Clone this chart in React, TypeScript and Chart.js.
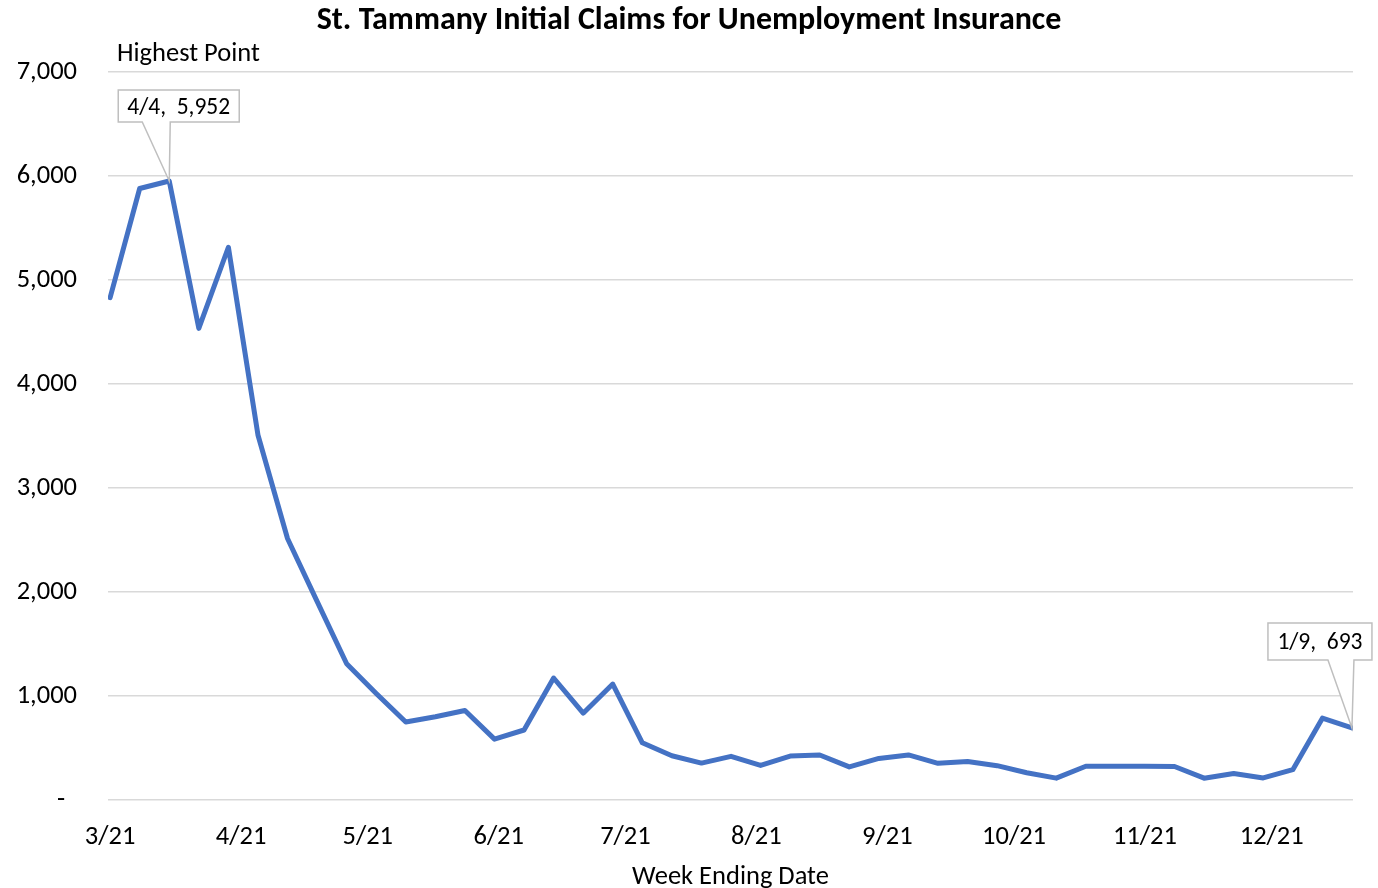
import React, { useEffect, useRef } from 'react';
import { Chart, registerables } from 'chart.js';

Chart.register(...registerables);

const TITLE = 'St. Tammany Initial Claims for Unemployment Insurance';
const X_TITLE = 'Week Ending Date';
const NOTE = 'Highest Point';

// Week ending dates
const weekEnding: string[] = [
  '2020-03-21', '2020-03-28', '2020-04-04', '2020-04-11', '2020-04-18', '2020-04-25',
  '2020-05-02', '2020-05-09', '2020-05-16', '2020-05-23', '2020-05-30',
  '2020-06-06', '2020-06-13', '2020-06-20', '2020-06-27',
  '2020-07-04', '2020-07-11', '2020-07-18', '2020-07-25',
  '2020-08-01', '2020-08-08', '2020-08-15', '2020-08-22', '2020-08-29',
  '2020-09-05', '2020-09-12', '2020-09-19', '2020-09-26',
  '2020-10-03', '2020-10-10', '2020-10-17', '2020-10-24', '2020-10-31',
  '2020-11-07', '2020-11-14', '2020-11-21', '2020-11-28',
  '2020-12-05', '2020-12-12', '2020-12-19', '2020-12-26',
  '2021-01-02', '2021-01-09',
];

// Initial claims
const claims: number[] = [
  4830, 5880, 5952, 4535, 5315, 3510,
  2515, 1910, 1310, 1025, 750,
  800, 860, 585, 673,
  1173, 835, 1115, 550,
  425, 355, 420, 332, 423,
  433, 318, 400, 433,
  353, 370, 330, 262, 210,
  325, 325, 325, 322,
  210, 255, 212, 292,
  787, 693,
];

// X axis tick dates
const tickDates: string[] = [
  '2020-03-21', '2020-04-21', '2020-05-21', '2020-06-21', '2020-07-21',
  '2020-08-21', '2020-09-21', '2020-10-21', '2020-11-21', '2020-12-21',
];

const yTicks: number[] = [0, 1000, 2000, 3000, 4000, 5000, 6000, 7000];

const FONT = 'Carlito, Calibri, Lato, sans-serif';
const LABEL_SIZE = 26.5;

const dayMs = 86400000;
const toUTC = (s: string) => {
  const [y, m, d] = s.split('-').map(Number);
  return Date.UTC(y, m - 1, d);
};
const base = toUTC(weekEnding[0]);
const dayOf = (s: string) => Math.round((toUTC(s) - base) / dayMs);
const shortLabel = (s: string) => {
  const [, m, d] = s.split('-').map(Number);
  return `${m}/${d}`;
};
const fmt = (v: number) => v.toLocaleString('en-US');

export default function App() {
  const ref = useRef<HTMLCanvasElement | null>(null);

  useEffect(() => {
    document.body.style.margin = '0';
    const canvas = ref.current;
    if (!canvas) return;

    const points = weekEnding.map((d, i) => ({ x: dayOf(d), y: claims[i] }));
    const tickDays = tickDates.map(dayOf);
    const maxIdx = claims.indexOf(Math.max(...claims));
    const lastIdx = claims.length - 1;

    const calloutPlugin = {
      id: 'callouts',
      afterDatasetsDraw(chart: any) {
        const ctx = chart.ctx as CanvasRenderingContext2D;
        const meta = chart.getDatasetMeta(0);
        const drawCallout = (
          idx: number,
          dl: number, dr: number, dt: number, db: number,
          bl: number, br: number,
        ) => {
          const p = meta.data[idx];
          const px = p.x, py = p.y;
          const L = px + dl, R = px + dr, T = py + dt, B = py + db;
          ctx.save();
          ctx.beginPath();
          ctx.moveTo(L, T);
          ctx.lineTo(R, T);
          ctx.lineTo(R, B);
          ctx.lineTo(px + br, B);
          ctx.lineTo(px, py);
          ctx.lineTo(px + bl, B);
          ctx.lineTo(L, B);
          ctx.closePath();
          ctx.fillStyle = '#ffffff';
          ctx.fill();
          ctx.strokeStyle = '#bfbfbf';
          ctx.lineWidth = 1.5;
          ctx.stroke();
          ctx.fillStyle = '#000000';
          ctx.font = `23.5px ${FONT}`;
          ctx.textAlign = 'center';
          ctx.textBaseline = 'middle';
          const text = `${shortLabel(weekEnding[idx])},  ${fmt(claims[idx])}`;
          ctx.fillText(text, (L + R) / 2, (T + B) / 2 + 2);
          ctx.restore();
        };
        drawCallout(maxIdx, -51, 70, -91, -59, -27, 1);
        drawCallout(lastIdx, -84, 20, -105, -68, -24, 2);

        const area = chart.chartArea;
        ctx.save();
        ctx.fillStyle = '#000000';
        ctx.font = `${LABEL_SIZE}px ${FONT}`;
        ctx.textAlign = 'left';
        ctx.textBaseline = 'middle';
        ctx.fillText(NOTE, area.left + 9, area.top - 18);
        ctx.font = `bold 32px ${FONT}`;
        ctx.textAlign = 'center';
        ctx.fillText(TITLE, chart.width / 2, 21);
        ctx.restore();
      },
    };

    const chart = new Chart(canvas, {
      type: 'line',
      data: {
        datasets: [
          {
            label: 'Initial Claims',
            data: points,
            borderColor: '#4472C4',
            backgroundColor: '#4472C4',
            borderWidth: 5,
            pointRadius: 0,
            tension: 0,
            borderJoinStyle: 'round',
            borderCapStyle: 'round',
          },
        ],
      },
      options: {
        responsive: false,
        animation: false,
        layout: { padding: { left: 0, right: 25, top: 72, bottom: 0 } },
        plugins: {
          legend: { display: false },
          tooltip: { enabled: false },
          title: { display: false },
        },
        scales: {
          x: {
            type: 'linear',
            min: -0.5,
            max: dayOf(weekEnding[lastIdx]) + 0.25,
            afterBuildTicks: (scale: any) => {
              scale.ticks = tickDays.map((v) => ({ value: v }));
            },
            afterFit: (scale: any) => {
              scale.height = 88;
            },
            grid: { display: false, drawTicks: false },
            border: { display: false },
            ticks: {
              autoSkip: false,
              maxRotation: 0,
              padding: 21,
              color: '#000000',
              font: { family: FONT, size: LABEL_SIZE },
              callback: (v: any) => {
                const i = tickDays.indexOf(Number(v));
                return i >= 0 ? shortLabel(tickDates[i]) : '';
              },
            },
            title: {
              display: true,
              text: X_TITLE,
              color: '#000000',
              font: { family: FONT, size: LABEL_SIZE },
              padding: { top: 0, bottom: -5 },
            },
          },
          y: {
            min: 0,
            max: 7000,
            afterBuildTicks: (scale: any) => {
              scale.ticks = yTicks.map((v) => ({ value: v }));
            },
            afterFit: (scale: any) => {
              scale.width = 108;
            },
            grid: { color: '#d9d9d9', lineWidth: 1.5, drawTicks: false },
            border: { display: false },
            ticks: {
              padding: 31,
              color: '#000000',
              font: { family: FONT, size: LABEL_SIZE },
              callback: (v: any) => (Number(v) === 0 ? '-  ' : fmt(Number(v))),
            },
          },
        },
      } as any,
      plugins: [calloutPlugin],
    });

    return () => chart.destroy();
  }, []);

  return (
    <div style={{ width: 1378, height: 888 }}>
      <canvas ref={ref} width={1378} height={888} style={{ display: 'block' }} />
    </div>
  );
}
